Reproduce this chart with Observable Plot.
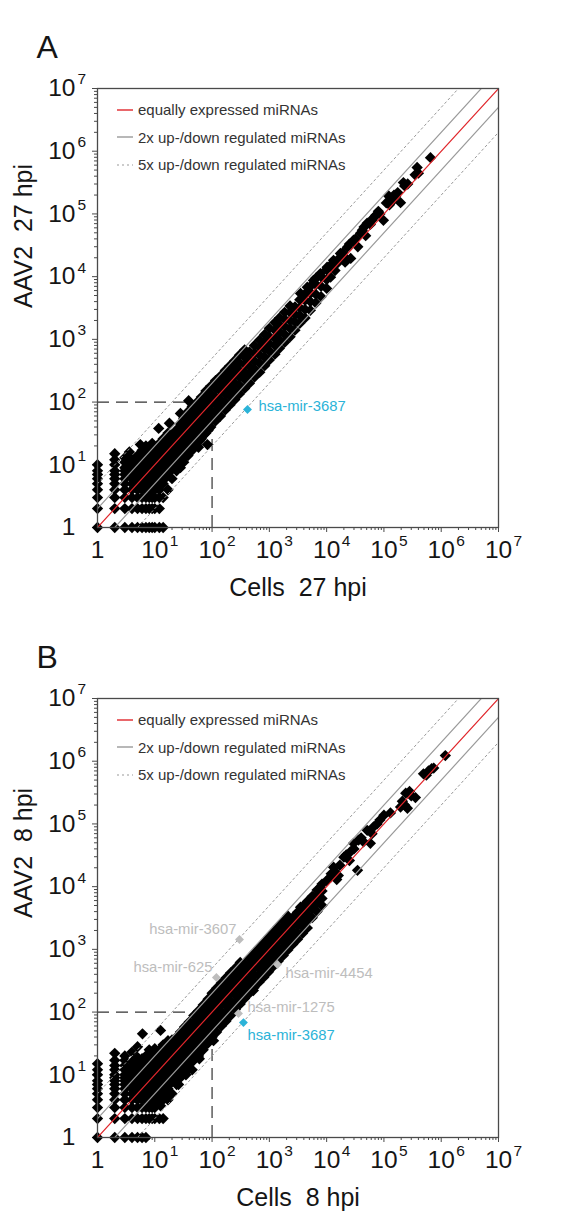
<!DOCTYPE html>
<html><head><meta charset="utf-8">
<script src="https://cdn.jsdelivr.net/npm/d3@7"></script>
<script src="https://cdn.jsdelivr.net/npm/@observablehq/plot@0.6"></script>
<style>
body{margin:0;background:#fff;font-family:"Liberation Sans",Arial,sans-serif;}
.panel{position:relative;width:571px;height:610px;}
.legend{position:absolute;left:117px;top:96px;font-size:15px;color:#333;}
.legend .row{height:27.5px;display:flex;align-items:center;white-space:nowrap;}
.legend svg{margin-right:5px;}
</style></head><body><div id="chart"></div>
<script>
// ---------- data ----------
const majorTicks = [1, 10, 100, 1e3, 1e4, 1e5, 1e6, 1e7];
const tickBase = ["1", "10", "10", "10", "10", "10", "10", "10"];
const tickExp = ["", "1", "2", "3", "4", "5", "6", "7"];
const minorMultipliers = [2, 3, 4, 5, 6, 7, 8, 9];
const threshold = 100;
const legendLabels = ["equally expressed miRNAs", "2x up-/down regulated miRNAs", "5x up-/down regulated miRNAs"];
const panelLetters = ["A", "B"];
const xTitles = ["Cells  27 hpi", "Cells  8 hpi"];
const yTitles = ["AAV2  27 hpi", "AAV2  8 hpi"];

// panel A: [cells, AAV2] read counts
const pointsA = [
[1,1],[1,2],[1,3],[1,4],[1,5],[1,6],[1,7],[1,8],[1,10],
[2,1],[2,2],[2,3],[2,4],[2,5],[2,6],[2,7],[2,8],[2,10],[2,12],[2,15],
[3,1],[3,2],[3,3],[3,4],[3,5],[3,6],[3,7],[3,8],[3,9],[3,11],[3,13],
[4,1],[4,2],[4,3],[4,4],[4,5],[4,6],[4,7],[4,8],[4,9],[4,10],[4,12],[3.6,16],
[5,1],[5,2],[5,3],[5,4],[5,5],[5,6],[5,7],[5,8],[5,9],[5,10],[5,11],[5,14],[5.6,21],
[6,1],[6,2],[6,3],[6,4],[6,5],[6,6],[6,7],[6,8],[6,9],[6,10],[6,12],[6,13],[6,17],
[7,1],[7,2],[7,3],[7,4],[7,5],[7,6],[7,7],[7,8],[7,9],[7,10],[7,12],[7,15],[7,20],
[8,1],[8,2],[8,3],[8,4],[8,5],[8,6],[8,7],[8,8],[8,9],[8,10],[8,11],[8,12],[8,14],[8,18],
[9,1],[9,2],[9,3],[9,4],[9,5],[9,6],[9,7],[9,8],[9,9],[9,10],[9,12],[9,14],[9,16],[9,22],
[10,1],[10,2],[10,3],[10,4],[10,5],[10,6],[10,7],[10,8],[10,10],[10,11],[10,13],[10,15],[10,18],
[11,5],[11,8],[11,11],[11,14],
[12,1],[12,2],[12,3],[12,4],[12,6],[12,7],[12,9],[12,10],[12,12],[12,14],[12,16],[12,19],[12,22],[11.7,38],
[13,6],[13,9],[13,13],[13,17],
[14,1],[14,3],[14,5],[14,8],[14,11],[14,15],[14,20],[14,26],
[15,6],[15,9],[15,12],[15,16],[15,22],[16,7],[16,11],[16,14],[16,19],
[17,4],[17.5,7.5],[17,10],[17,14],[17,18],[17,24],[17,32],[18,46],
[19,8],[19,11],[19,15],[19,20],[19,26],
[20,6],[20,9],[20,12],[20,17],[20,22],[20,30],
[22,9],[22,13],[22,18],[22,24],[22,32],
[24,8],[24,11],[24,15],[24,20],[24,27],[24,36],
[26,10],[26,14],[26,20],[26,27],[26,38],
[28,9],[28,13],[28,18],[28,24],[28,33],[28,45],[28,66],
[30,12],[30,18],[30,25],[30,34],
[32,11],[32,16],[32,22],[32,30],[32,40],[32,55],
[35,15],[35,22],[35,30],[35,42],[35,60],
[38,14],[38,20],[38,27],[38,36],[38,50],[38,70],[39,105],
[42,18],[42,26],[42,36],[42,48],
[45,17],[45,24],[45,33],[45,44],[45,60],[45,85],
[50,20],[50,30],[50,42],[50,58],[50,80],
[55,20],[55,28],[55,40],[55,55],[55,75],[55,100],
[58,19],[83,21],
[60,24],[60,34],[60,46],[60,62],
[65,26],[65,36],[65,50],[65,66],[65,90],[65,120],
[72,30],[72,40],[72,55],[72,72],[72,95],
[78,32],[78,44],[78,60],[78,80],[78,110],[78,150],
[86,36],[86,48],[86,66],[86,88],[86,120],
[95,40],[95,55],[95,75],[95,100],[95,135],[95,180],
[115,50],[115,68],[115,92],[115,120],[115,165],[115,220],
[140,60],[140,82],[140,110],[140,150],[140,200],[140,260],
[170,75],[170,100],[170,135],[170,180],[170,240],[170,320],
[205,90],[205,125],[205,165],[205,220],[205,290],[205,380],
[250,110],[250,150],[250,200],[250,270],[250,350],[250,460],
[300,135],[300,185],[300,250],[300,320],[300,420],[300,560],
[370,165],[370,230],[370,300],[370,400],[370,520],[370,680],
[450,200],[450,280],[450,370],[450,480],[450,630],
[550,250],[550,340],[550,450],[550,600],[550,800],
[680,300],[680,420],[680,560],[680,740],[680,980],
[830,380],[830,520],[830,700],[830,900],[830,1200],
[1000,470],[1000,650],[1000,850],[1000,1100],[1000,1500],
[1250,580],[1250,800],[1250,1050],[1250,1400],[1250,1850],
[1500,720],[1500,980],[1500,1300],[1500,1700],[1500,2200],
[1850,900],[1850,1200],[1850,1600],[1850,2100],[1850,2700],
[2300,1100],[2300,1500],[2300,2000],[2300,2700],[2300,3400],
[2800,1400],[2800,1900],[2800,2500],[2800,3300],
[3400,1800],[3400,2400],[3400,3200],[3400,4300],
[4200,2200],[4200,3000],[4200,4200],[4200,5300],
[5200,2900],[5200,4000],[5200,5600],[5200,7000],
[6500,3800],[6500,5200],[6500,7500],[6500,9500],
[8000,4800],[8000,7000],[8000,10000],
[10000,6500],[10000,9000],[10000,13000],
[3500,5400],[5200,5400],[4600,6800],[5900,8700],[11700,9800],[7800,11200],
[10200,14100],[13200,18200],[17400,23400],[23000,29500],[26300,19500],
[29500,38000],[39000,49000],[51000,71000],[66000,87000],[98000,79000],
[120000,195000],[140000,160000],[174000,219000],[195000,151000],[219000,316000],
[400000,447000],[380000,550000],[650000,790000],[15000,16000],[20000,21000],
[45000,62000],[80000,110000],
[12000,15500],[14000,12500],[16000,19000],[19000,24000],[21000,17000],[25000,33000],
[32000,40000],[35000,30000],[42000,55000],[48000,45000],[58000,68000],[62000,80000],
[72000,95000],[85000,100000],[110000,150000],[125000,140000],[150000,200000],
[160000,190000],[230000,280000],[260000,300000],[350000,420000]
];
// panel B
const pointsB = [
[1,1],[1,2],[1,3],[1,4],[1,5],[1,6],[1,7],[1,8],[1,10],[1,12],[1,15],
[2,1],[2,2],[2,3],[2,4],[2,5],[2,6],[2,7],[2,8],[2,9],[2,10],[2,12],[2,14],[2,17],[2,22],
[3,1],[3,2],[3,3],[3,4],[3,5],[3,6],[3,7],[3,8],[3,9],[3,10],[3,12],[3,14],[3,17],[3,20],
[4,1],[4,2],[4,3],[4,4],[4,5],[4,6],[4,7],[4,8],[4,9],[4,10],[4,11],[4,13],[4,16],[4,23],
[5,1],[5,2],[5,3],[5,4],[5,5],[5,6],[5,7],[5,8],[5,9],[5,10],[5,11],[5,12],[5,15],[5,19],[5,28],
[6,1],[6,2],[6,3],[6,4],[6,5],[6,6],[6,7],[6,8],[6,9],[6,10],[6,11],[6,12],[6,14],[6,16],[6,18],[6.1,45],
[7,1],[7,2],[7,3],[7,4],[7,5],[7,6],[7,7],[7,8],[7,9],[7,10],[7,11],[7,13],[7,14],[7,16],[7,20],
[8,2],[8,3],[8,4],[8,5],[8,6],[8,7],[8,8],[8,9],[8,10],[8,11],[8,12],[8,13],[8,15],[8,19],[8,25],
[9,2],[9,3],[9,4],[9,5],[9,6],[9,7],[9,8],[9,9],[9,10],[9,11],[9,12],[9,14],[9,16],[9,18],[9,23],
[10,2],[10,3],[10,4],[10,5],[10,6],[10,7],[10,8],[10,9],[10,10],[10,11],[10,12],[10,14],[10,16],[10,20],[10,26],
[11,4],[11,6],[11,9],[11,12],[11,16],[11,22],
[12,2],[12.6,3.2],[12,4],[12,5],[12,7],[12,8],[12,10],[12,11],[12,12],[12,14],[12,15],[12,19],[12,25],[12.6,51],
[13,5],[13,7],[13,10],[13,13],[13,17],[13,21],
[14,2],[14,4],[14,6],[14,8],[14,11],[14,14],[14,18],[14,23],[14,30],
[15,5],[15,7],[15,10],[15,13],[15,17],[15,24],
[16,6],[16,9],[16,12],[16,16],[16,20],
[17,4],[17,6],[17,8],[17,10],[17,13],[17,17],[17,21],[17,27],[17,35],[19,7.6],
[18,7],[18,10],[18,13],[18,17],[18,23],
[20,5],[20,8],[20,11],[20,14],[20,18],[20,22],[20,28],[20,36],
[22,8],[22,11],[22,15],[22,20],[22,26],[22,34],
[24,7],[24,10],[24,14],[24,18],[24,24],[24,30],[24,40],[25,27],
[26,9],[26,13],[26,18],[26,24],[26,32],[26,7],
[28,9],[28,12],[28,16],[28,22],[28,28],[28,36],[28,48],
[30,11],[30,15],[30,20],[30,27],[30,36],
[33,11],[33,15],[33,20],[33,26],[33,34],[33,44],[33,58],
[35,10],[36,13],[36,18],[36,24],[36,32],[36,42],
[40,13],[40,18],[40,24],[40,32],[40,42],[40,54],[40,70],
[44,16],[44,22],[44,30],[44,40],[44,52],[45,12],
[48,17],[48,22],[48,30],[48,40],[48,52],[48,66],[48,88],
[52,19],[52,26],[52,36],[52,46],[52,60],
[58,20],[58,27],[58,36],[58,48],[58,62],[58,80],[58,105],[60,18],
[64,24],[64,32],[64,44],[64,58],[64,76],
[70,25],[70,33],[70,45],[70,60],[70,78],[70,100],[70,130],
[78,30],[78,40],[78,54],[78,70],[78,92],
[85,32],[85,42],[85,56],[85,74],[85,96],[85,125],[85,160],
[92,36],[92,48],[92,64],[92,84],[92,110],
[100,40],[100,52],[100,70],[100,90],[100,120],[100,150],[100,200],[106,35],
[120,48],[120,64],[120,85],[120,110],[120,145],[120,185],[120,240],
[145,60],[145,78],[145,100],[145,135],[145,175],[145,225],[145,290],
[175,72],[175,95],[175,125],[175,165],[175,215],[175,275],[175,350],
[210,88],[210,115],[210,150],[210,200],[210,260],[210,330],[210,420],
[255,110],[255,140],[255,185],[255,240],[255,310],[255,400],[255,500],
[310,135],[310,170],[310,225],[310,290],[310,380],[310,490],[310,620],
[370,165],[370,210],[370,270],[370,350],[370,460],[370,590],
[450,200],[450,255],[450,330],[450,430],[450,560],[450,720],[525,220],
[540,245],[540,310],[540,400],[540,520],[540,680],[540,870],
[660,300],[660,380],[660,490],[660,640],[660,830],[660,1050],
[800,360],[800,460],[800,600],[800,780],[800,1000],[800,1280],
[970,440],[970,560],[970,730],[970,950],[970,1220],[970,1550],
[1180,540],[1180,690],[1180,890],[1180,1150],[1180,1480],[1180,1900],
[1430,650],[1430,840],[1430,1080],[1430,1400],[1430,1800],[1430,2300],
[1750,800],[1750,1020],[1750,1320],[1750,1700],[1750,2200],[1750,2800],
[2100,980],[2100,1250],[2100,1600],[2100,2050],[2100,2650],[2100,3400],
[2550,1200],[2550,1530],[2550,1950],[2550,2500],[2550,3200],
[3100,1450],[3100,1850],[3100,2400],[3100,3100],[3100,3900],
[3800,1800],[3800,2300],[3800,2900],[3800,3700],[3800,4800],
[4600,2200],[4600,2800],[4600,3600],[4600,4600],[4600,5800],
[5600,3200],[5600,4400],[5600,5600],[5600,7000],
[6800,4000],[6800,5400],[6800,7000],[6800,8800],
[8300,5000],[8300,6500],[8300,8500],[8300,11000],
[3500,4700],[5900,6800],[7800,9800],[11700,14100],[13200,20400],[10000,12500],
[15000,13000],[17000,22000],[25000,26000],[20000,29500],[29500,49000],
[34600,18200],[36000,55000],[58000,49000],[51000,79000],[76000,100000],
[100000,138000],[195000,186000],[257000,178000],[355000,263000],[240000,309000],
[490000,630000],[740000,776000],[1180000,1230000],[600000,700000],[130000,150000],
[12000,16000],[14000,17500],[16000,15000],[22000,32000],[26000,36000],[30000,40000],
[40000,60000],[44000,52000],[62000,70000],[66000,90000],[85000,115000],
[210000,230000],[230000,200000],[280000,330000],[300000,280000],[550000,600000],[680000,760000]
];
// highlighted miRNAs
const highlightNamesA = ["hsa-mir-3687"];
const highlightCellsA = [415];
const highlightAavA = [76];
const highlightKindA = ["blue"];
const highlightNamesB = ["hsa-mir-3607", "hsa-mir-625", "hsa-mir-4454", "hsa-mir-1275", "hsa-mir-3687"];
const highlightCellsB = [301, 119, 1387, 289, 353];
const highlightAavB = [1437, 356, 574, 95, 68];
const highlightKindB = ["gray", "gray", "gray", "gray", "blue"];

// ---------- layout / style ----------
const W = 571, H = 610;
const M = {left: 97, right: 73, top: 88, bottom: 83};
const domain = [1, 1e7];
const colors = {red: "#e0262b", guide: "#9a9a9a", blue: "#2bb3d8", gray: "#bdbdbd", ink: "#151515", frame: "#4a4a4a"};
const labelOffsetsA = [{dx: 11, dy: -3, anchor: "start"}];
const labelOffsetsB = [
  {dx: -3, dy: -10, anchor: "end"},
  {dx: -4, dy: -10, anchor: "end"},
  {dx: 8, dy: 9, anchor: "start"},
  {dx: 9, dy: -6, anchor: "start"},
  {dx: 4, dy: 13, anchor: "start"}
];
const font = "'Liberation Sans', Arial, sans-serif";

const minorTicks = majorTicks.slice(0, -1).flatMap(t => minorMultipliers.map(m => t * m));
const guides = [
  {ratio: 1, kind: "equal"}, {ratio: 2, kind: "two"}, {ratio: 0.5, kind: "two"},
  {ratio: 5, kind: "five"}, {ratio: 0.2, kind: "five"}
].flatMap(g => domain.map(d => ({...g, x: d, y: d * g.ratio})));
const tickRows = majorTicks.map((t, i) => ({t, base: tickBase[i], exp: tickExp[i]}));

function panel(idx, points, names, cells, aav, kinds, offsets) {
  const hl = names.map((n, i) => ({name: n, x: cells[i], y: aav[i], kind: kinds[i], ...offsets[i]}));
  const plot = Plot.plot({
    width: W, height: H,
    marginLeft: M.left, marginRight: M.right, marginTop: M.top, marginBottom: M.bottom,
    x: {type: "log", domain},
    y: {type: "log", domain},
    style: {fontFamily: font, background: "white", color: colors.ink, overflow: "visible"},
    marks: [
      Plot.axisX(minorTicks, {tickSize: 3, tickFormat: () => "", stroke: colors.frame}),
      Plot.axisX(majorTicks, {tickSize: 5, tickFormat: () => "", stroke: colors.frame}),
      Plot.axisY(minorTicks, {tickSize: 3, tickFormat: () => "", stroke: colors.frame}),
      Plot.axisY(majorTicks, {tickSize: 5, tickFormat: () => "", stroke: colors.frame}),
      Plot.ruleY([threshold], {x1: domain[0], x2: threshold, stroke: "#333", strokeWidth: 1.2, strokeDasharray: "12,7"}),
      Plot.ruleX([threshold], {y1: domain[0], y2: threshold, stroke: "#333", strokeWidth: 1.2, strokeDasharray: "12,7"}),
      Plot.dot(points, {x: d => d[0], y: d => d[1], symbol: "diamond2", r: 5.1, fill: "#000"}),
      Plot.line(guides.filter(g => g.kind === "five"), {x: "x", y: "y", z: "ratio", stroke: colors.guide, strokeWidth: 1, strokeDasharray: "2,3", clip: true}),
      Plot.line(guides.filter(g => g.kind === "two"), {x: "x", y: "y", z: "ratio", stroke: colors.guide, strokeWidth: 1.2, clip: true}),
      Plot.line(guides.filter(g => g.kind === "equal"), {x: "x", y: "y", z: "ratio", stroke: colors.red, strokeWidth: 1.2, clip: true}),
      Plot.frame({stroke: colors.frame, strokeWidth: 1.3}),
      Plot.dot(hl, {x: "x", y: "y", symbol: "diamond2", r: 4, fill: d => colors[d.kind]}),
      ...hl.map(h => Plot.text([h], {x: "x", y: "y", text: "name", dx: h.dx, dy: h.dy, textAnchor: h.anchor, fill: colors[h.kind], fontSize: 14.8})),
      // tick labels
      Plot.text(tickRows, {x: "t", frameAnchor: "bottom", dy: 30, text: "base", fontSize: 24.5, fill: colors.ink}),
      Plot.text(tickRows.filter(d => d.exp), {x: "t", frameAnchor: "bottom", dy: 18, dx: 15, text: "exp", textAnchor: "start", fontSize: 15.5, fill: colors.ink}),
      Plot.text(tickRows, {y: "t", frameAnchor: "left", dx: -22, text: "base", textAnchor: "end", fontSize: 24.5, fill: colors.ink}),
      Plot.text(tickRows.filter(d => d.exp), {y: "t", frameAnchor: "left", dx: -20, dy: -9, text: "exp", textAnchor: "start", fontSize: 15.5, fill: colors.ink}),
      // titles
      Plot.text([xTitles[idx]], {frameAnchor: "bottom", dy: 68, text: d => d, fontSize: 25, fill: colors.ink}),
      Plot.text([yTitles[idx]], {frameAnchor: "left", dx: -74, rotate: -90, text: d => d, fontSize: 25, fill: colors.ink}),
      Plot.text([panelLetters[idx]], {frameAnchor: "top-left", dx: -61, dy: -53, text: d => d, fontSize: 32, fill: colors.ink})
    ]
  });
  const wrap = document.createElement("div");
  wrap.className = "panel";
  wrap.appendChild(plot);
  const legend = document.createElement("div");
  legend.className = "legend";
  const swatches = [
    `<line x1="0" y1="1" x2="16" y2="1" stroke="${colors.red}" stroke-width="1.4"/>`,
    `<line x1="0" y1="1" x2="16" y2="1" stroke="${colors.guide}" stroke-width="1.4"/>`,
    `<line x1="0" y1="1" x2="16" y2="1" stroke="${colors.guide}" stroke-width="1.2" stroke-dasharray="2,3"/>`
  ];
  legend.innerHTML = legendLabels.map((l, i) =>
    `<div class="row"><svg width="16" height="2">${swatches[i]}</svg><span>${l}</span></div>`).join("");
  wrap.appendChild(legend);
  return wrap;
}

const root = document.getElementById("chart");
root.appendChild(panel(0, pointsA, highlightNamesA, highlightCellsA, highlightAavA, highlightKindA, labelOffsetsA));
root.appendChild(panel(1, pointsB, highlightNamesB, highlightCellsB, highlightAavB, highlightKindB, labelOffsetsB));
</script></body></html>
